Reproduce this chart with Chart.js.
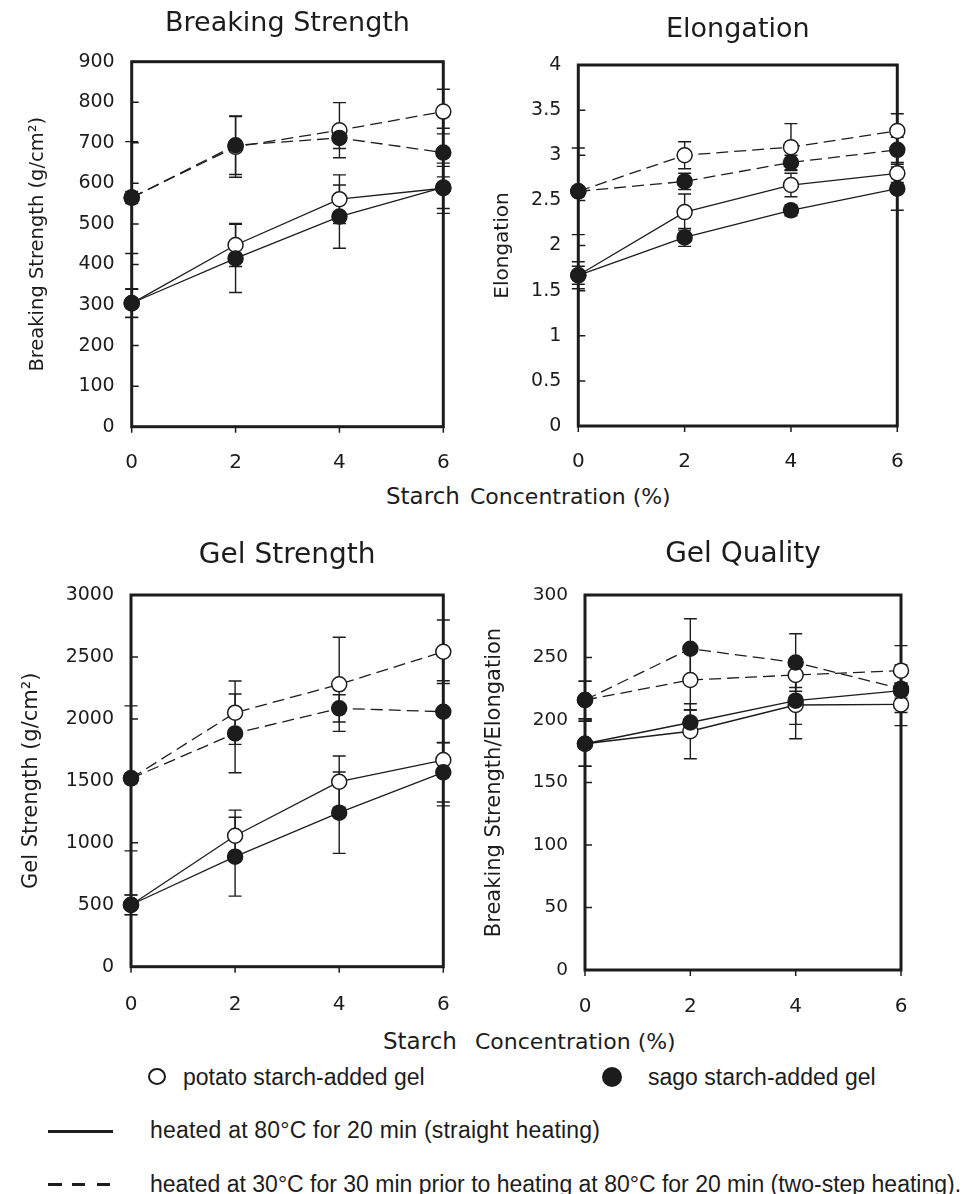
<!DOCTYPE html>
<html>
<head>
<meta charset="utf-8">
<script src="https://cdn.jsdelivr.net/npm/chart.js@4.4.1/dist/chart.umd.min.js"></script>
<style>
    body { margin: 0; background: #fff; width: 972px; height: 1194px; position: relative; overflow: hidden; color: #1c1c1c; }
    canvas { position: absolute; }
    .txt { position: absolute; white-space: nowrap; line-height: 1; }
    .axis-title { font-family: "DejaVu Sans", sans-serif; }
    .legend { font-family: "Liberation Sans", Arial, sans-serif; font-size: 23px; line-height: 23px; }
    .mark { position: absolute; background: #1c1c1c; }
</style>
</head>
<body>
<canvas id="bsChart" width="480" height="480" style="left:0;top:0"></canvas>
<canvas id="elChart" width="492" height="480" style="left:480px;top:0"></canvas>
<canvas id="gsChart" width="480" height="500" style="left:0;top:520px"></canvas>
<canvas id="gqChart" width="492" height="500" style="left:480px;top:520px"></canvas>

<!-- shared x axis titles -->
<div class="txt axis-title" style="left:386px;top:485px;font-size:23px">Starch</div>
<div class="txt axis-title" style="left:470px;top:486px;font-size:22px">Concentration (%)</div>
<div class="txt axis-title" style="left:383px;top:1030px;font-size:23px">Starch</div>
<div class="txt axis-title" style="left:475px;top:1031px;font-size:22px">Concentration (%)</div>

<!-- legend -->
<div class="mark" style="left:148px;top:1068px;width:14px;height:13px;border:2px solid #1c1c1c;border-radius:50%;background:#fff"></div>
<div class="txt legend" style="left:183px;top:1066px">potato starch-added gel</div>
<div class="mark" style="left:602px;top:1067px;width:20px;height:20px;border-radius:50%"></div>
<div class="txt legend" style="left:648px;top:1066px">sago starch-added gel</div>
<div class="mark" style="left:48px;top:1130px;width:65px;height:3px"></div>
<div class="txt legend" style="left:150px;top:1119px;letter-spacing:0.2px">heated at 80°C for 20 min (straight heating)</div>
<div class="mark" style="left:48px;top:1183px;width:14px;height:3px"></div>
<div class="mark" style="left:72px;top:1183px;width:13px;height:3px"></div>
<div class="mark" style="left:97px;top:1183px;width:13px;height:3px"></div>
<div class="txt legend" style="left:150px;top:1173px">heated at 30°C for 30 min prior to heating at 80°C for 20 min (two-step heating).</div>

<script>
// Starch concentration (%) on every x axis
const concentration = [0, 2, 4, 6];
const xTicks = [0, 2, 4, 6];

// Breaking strength (g/cm2)
const bsPotatoStraight = [304, 448, 561, 588];
const bsPotatoStraightErr = [35, 53, 60, 62];
const bsSagoStraight = [305, 415, 518, 590];
const bsSagoStraightErr = [35, 84, 78, 52];
const bsPotatoTwoStep = [565, 690, 731, 777];
const bsPotatoTwoStepErr = [15, 75, 68, 55];
const bsSagoTwoStep = [565, 694, 712, 676];
const bsSagoTwoStepErr = [138, 72, 26, 60];
const bsTicks = [0, 100, 200, 300, 400, 500, 600, 700, 800, 900];

// Elongation
const elPotatoStraight = [1.67, 2.37, 2.67, 2.80];
const elPotatoStraightErr = [0.1, 0.2, 0.13, 0.1];
const elSagoStraight = [1.67, 2.09, 2.39, 2.63];
const elSagoStraightErr = [0.15, 0.1, 0.06, 0.24];
const elPotatoTwoStep = [2.60, 3.00, 3.09, 3.27];
const elPotatoTwoStepErr = [0.05, 0.15, 0.26, 0.19];
const elSagoTwoStep = [2.60, 2.71, 2.92, 3.06];
const elSagoTwoStepErr = [0.48, 0.09, 0.08, 0.14];
const elTicks = [0, 0.5, 1, 1.5, 2, 2.5, 3, 3.5, 4];

// Gel strength (g/cm2)
const gsPotatoStraight = [498, 1057, 1493, 1668];
const gsPotatoStraightErr = [80, 207, 207, 370];
const gsSagoStraight = [500, 888, 1243, 1569];
const gsSagoStraightErr = [80, 318, 328, 240];
const gsPotatoTwoStep = [1520, 2050, 2279, 2542];
const gsPotatoTwoStepErr = [40, 256, 380, 256];
const gsSagoTwoStep = [1520, 1883, 2085, 2058];
const gsSagoTwoStepErr = [585, 318, 110, 250];
const gsTicks = [0, 500, 1000, 1500, 2000, 2500, 3000];

// Gel quality (breaking strength / elongation)
const gqPotatoStraight = [181, 191, 212, 212.5];
const gqPotatoStraightErr = [18, 22, 27, 17];
const gqSagoStraight = [181, 198, 215.5, 223.5];
const gqSagoStraightErr = [18, 10, 19, 6];
const gqPotatoTwoStep = [216, 232, 236, 239.5];
const gqPotatoTwoStepErr = [15, 24, 10, 20];
const gqSagoTwoStep = [216, 257, 246, 225];
const gqSagoTwoStepErr = [15, 24, 23, 19];
const gqTicks = [0, 50, 100, 150, 200, 250, 300];

const INK = '#1c1c1c';
const FONT = 'DejaVu Sans';

// frame, inward y ticks, outward x ticks and error bars, drawn under the markers
const frameAndErrors = {
    id: 'frameAndErrors',
    beforeDatasetsDraw(chart) {
        const { ctx, chartArea: a, scales: { x, y } } = chart;
        ctx.save();
        ctx.strokeStyle = INK;

        ctx.lineWidth = 1.5;
        ctx.beginPath();
        y.ticks.forEach(t => {
            const py = y.getPixelForValue(t.value);
            ctx.moveTo(a.left, py);
            ctx.lineTo(a.left + 7, py);
        });
        x.ticks.forEach(t => {
            const px = x.getPixelForValue(t.value);
            ctx.moveTo(px, a.bottom);
            ctx.lineTo(px, a.bottom + 6);
        });
        ctx.stroke();

        ctx.lineWidth = 3;
        ctx.strokeRect(a.left, a.top, a.right - a.left, a.bottom - a.top);

        ctx.lineWidth = 1.4;
        chart.data.datasets.forEach(ds => {
            ds.data.forEach((p, i) => {
                const e = ds.err[i];
                const px = x.getPixelForValue(p.x);
                const hi = y.getPixelForValue(p.y + e);
                const lo = y.getPixelForValue(p.y - e);
                ctx.beginPath();
                ctx.moveTo(px, hi); ctx.lineTo(px, lo);
                ctx.moveTo(px - 6.5, hi); ctx.lineTo(px + 6.5, hi);
                ctx.moveTo(px - 6.5, lo); ctx.lineTo(px + 6.5, lo);
                ctx.stroke();
            });
        });
        ctx.restore();
    }
};

function series(values, err, filled, dashed) {
    return {
        data: concentration.map((c, i) => ({ x: c, y: values[i] })),
        err,
        borderColor: INK,
        borderWidth: 1.3,
        borderDash: dashed ? [12, 6] : [],
        pointRadius: 7.5,
        pointHoverRadius: 7.5,
        pointBorderWidth: 1.5,
        pointBorderColor: INK,
        pointBackgroundColor: filled ? INK : '#fff',
        tension: 0,
        fill: false,
        clip: false
    };
}

function createChart(id, cfg) {
    return new Chart(document.getElementById(id), {
        type: 'line',
        data: { datasets: cfg.datasets },
        options: {
            responsive: false,
            animation: false,
            events: [],
            layout: { padding: { left: 0, right: cfg.padRight, top: cfg.padTop, bottom: 0 } },
            plugins: {
                legend: { display: false },
                tooltip: { enabled: false },
                title: {
                    display: true,
                    text: cfg.title,
                    fullSize: false,
                    color: INK,
                    font: { family: FONT, size: cfg.titleSize, weight: 'normal' },
                    padding: { top: 0, bottom: cfg.titleGap }
                }
            },
            scales: {
                x: {
                    type: 'linear',
                    min: 0,
                    max: 6,
                    grid: { display: false, drawTicks: false },
                    border: { display: false },
                    afterBuildTicks: s => { s.ticks = xTicks.map(v => ({ value: v })); },
                    afterFit: s => { s.height = cfg.xAxisHeight; },
                    ticks: {
                        color: INK,
                        padding: cfg.xLabelPad,
                        font: { family: FONT, size: 20 },
                        callback: v => String(v)
                    }
                },
                y: {
                    min: 0,
                    max: cfg.ticks[cfg.ticks.length - 1],
                    grid: { display: false, drawTicks: false },
                    border: { display: false },
                    afterBuildTicks: s => { s.ticks = cfg.ticks.map(v => ({ value: v })); },
                    afterFit: s => { s.width = cfg.yAxisWidth; },
                    ticks: {
                        color: INK,
                        padding: 17,
                        font: { family: FONT, size: cfg.tickSize },
                        callback: v => String(v)
                    },
                    title: {
                        display: true,
                        text: cfg.yTitle,
                        color: INK,
                        font: { family: FONT, size: cfg.yTitleSize },
                        padding: { top: cfg.yTitlePad, bottom: 0 }
                    }
                }
            }
        },
        plugins: [frameAndErrors]
    });
}

// sago (filled) first so it is drawn on top
createChart('bsChart', {
    title: 'Breaking Strength', titleSize: 27, padTop: 7.6, titleGap: 21.7,
    padRight: 36.7, yAxisWidth: 131.7, xAxisHeight: 53.3, xLabelPad: 23.6,
    ticks: bsTicks, tickSize: 19,
    yTitle: 'Breaking Strength (g/cm²)', yTitleSize: 19.5, yTitlePad: 26,
    datasets: [
        series(bsSagoTwoStep, bsSagoTwoStepErr, true, true),
        series(bsSagoStraight, bsSagoStraightErr, true, false),
        series(bsPotatoTwoStep, bsPotatoTwoStepErr, false, true),
        series(bsPotatoStraight, bsPotatoStraightErr, false, false)
    ]
});

createChart('elChart', {
    title: 'Elongation', titleSize: 27, padTop: 13.6, titleGap: 19,
    padRight: 74.7, yAxisWidth: 98.3, xAxisHeight: 54, xLabelPad: 23.3,
    ticks: elTicks, tickSize: 19,
    yTitle: 'Elongation', yTitleSize: 20, yTitlePad: 10.5,
    datasets: [
        series(elSagoTwoStep, elSagoTwoStepErr, true, true),
        series(elSagoStraight, elSagoStraightErr, true, false),
        series(elPotatoTwoStep, elPotatoTwoStepErr, false, true),
        series(elPotatoStraight, elPotatoStraightErr, false, false)
    ]
});

createChart('gsChart', {
    title: 'Gel Strength', titleSize: 28, padTop: 19.2, titleGap: 22.2,
    padRight: 36.7, yAxisWidth: 131, xAxisHeight: 53.3, xLabelPad: 26.3,
    ticks: gsTicks, tickSize: 19,
    yTitle: 'Gel Strength (g/cm²)', yTitleSize: 21, yTitlePad: 19,
    datasets: [
        series(gsSagoTwoStep, gsSagoTwoStepErr, true, true),
        series(gsSagoStraight, gsSagoStraightErr, true, false),
        series(gsPotatoTwoStep, gsPotatoTwoStepErr, false, true),
        series(gsPotatoStraight, gsPotatoStraightErr, false, false)
    ]
});

createChart('gqChart', {
    title: 'Gel Quality', titleSize: 28, padTop: 18.2, titleGap: 23.2,
    padRight: 71, yAxisWidth: 105, xAxisHeight: 50, xLabelPad: 24.3,
    ticks: gqTicks, tickSize: 18.5,
    yTitle: 'Breaking Strength/Elongation', yTitleSize: 21, yTitlePad: 2.4,
    datasets: [
        series(gqSagoTwoStep, gqSagoTwoStepErr, true, true),
        series(gqSagoStraight, gqSagoStraightErr, true, false),
        series(gqPotatoTwoStep, gqPotatoTwoStepErr, false, true),
        series(gqPotatoStraight, gqPotatoStraightErr, false, false)
    ]
});
</script>
</body>
</html>
